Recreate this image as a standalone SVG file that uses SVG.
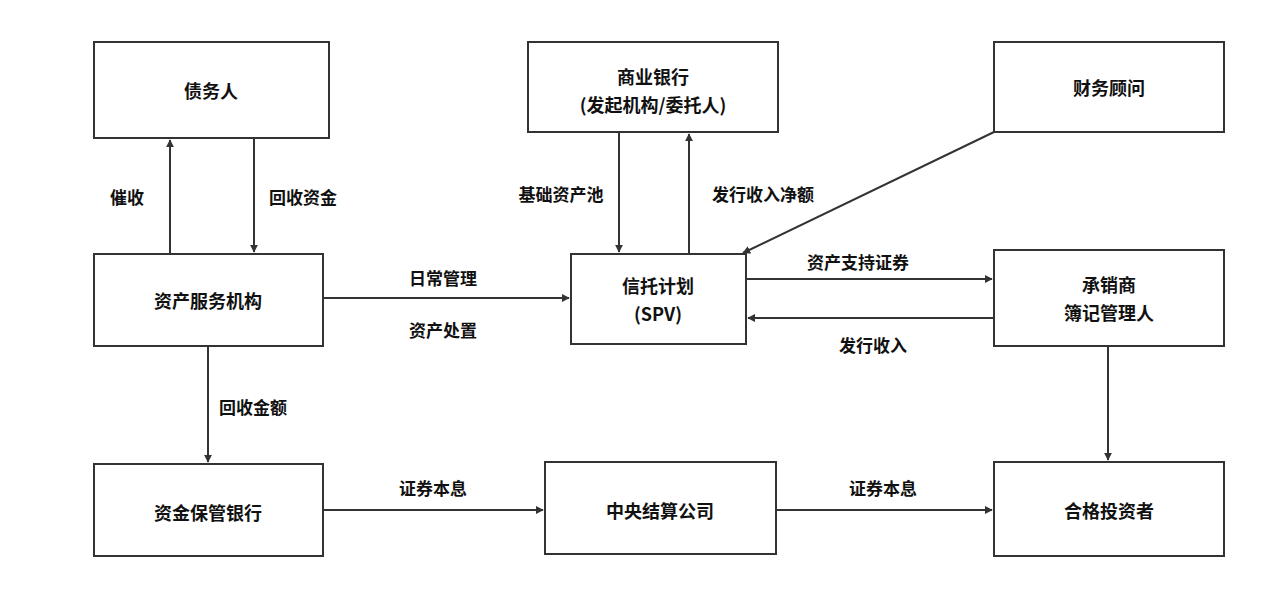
<svg xmlns="http://www.w3.org/2000/svg" width="1267" height="599" viewBox="0 0 1267 599">
<style>
.b{fill:#fff;stroke:#333;stroke-width:2}
.t{font-family:"Noto Sans CJK SC","Noto Sans",sans-serif;font-weight:bold;font-size:18px;fill:#111;text-anchor:middle;dominant-baseline:central}
.l{font-family:"Noto Sans CJK SC","Noto Sans",sans-serif;font-weight:bold;font-size:17px;fill:#111;text-anchor:middle;dominant-baseline:central}
.c{stroke:#333;stroke-width:2;fill:none;marker-end:url(#a)}
</style>
<defs><marker id="a" viewBox="0 0 10 10" refX="9" refY="5" markerWidth="8" markerHeight="8" markerUnits="userSpaceOnUse" orient="auto"><path d="M0,0L10,5L0,10z" fill="#333"/></marker></defs>
<rect width="1267" height="599" fill="#fff"/>
<g id="connectors">
<line class="c" x1="170" y1="254" x2="170" y2="140"/>
<line class="c" x1="254" y1="138" x2="254" y2="252"/>
<line class="c" x1="619" y1="132" x2="619" y2="252"/>
<line class="c" x1="689" y1="254" x2="689" y2="134"/>
<line class="c" x1="994" y1="132" x2="743" y2="253"/>
<line class="c" x1="323" y1="298" x2="569" y2="298"/>
<line class="c" x1="746" y1="279" x2="992" y2="279"/>
<line class="c" x1="994" y1="318" x2="748" y2="318"/>
<line class="c" x1="208" y1="346" x2="208" y2="462"/>
<line class="c" x1="1108" y1="346" x2="1108" y2="460"/>
<line class="c" x1="323" y1="510" x2="543" y2="510"/>
<line class="c" x1="776" y1="510" x2="992" y2="510"/>
<text class="l" x="127" y="196">催收</text>
<text class="l" x="303" y="196">回收资金</text>
<text class="l" x="561" y="193">基础资产池</text>
<text class="l" x="763" y="193">发行收入净额</text>
<text class="l" x="443" y="277">日常管理</text>
<text class="l" x="443" y="329">资产处置</text>
<text class="l" x="858" y="261">资产支持证券</text>
<text class="l" x="873" y="344">发行收入</text>
<text class="l" x="253" y="406">回收金额</text>
<text class="l" x="433" y="487">证券本息</text>
<text class="l" x="883" y="487">证券本息</text>
</g>
<g id="n1"><rect class="b" x="94" y="42" width="235" height="96"/><text class="t" x="211" y="90">债务人</text></g>
<g id="n2"><rect class="b" x="528" y="42" width="250" height="90"/><text class="t" x="653" y="76">商业银行</text><text class="t" x="653" y="104">(发起机构/委托人)</text></g>
<g id="n3"><rect class="b" x="994" y="42" width="230" height="90"/><text class="t" x="1109" y="87">财务顾问</text></g>
<g id="n4"><rect class="b" x="94" y="254" width="229" height="92"/><text class="t" x="208" y="300">资产服务机构</text></g>
<g id="n5"><rect class="b" x="571" y="254" width="175" height="90"/><text class="t" x="658" y="285">信托计划</text><text class="t" x="658" y="313">(SPV)</text></g>
<g id="n6"><rect class="b" x="994" y="250" width="230" height="96"/><text class="t" x="1109" y="284">承销商</text><text class="t" x="1109" y="312">簿记管理人</text></g>
<g id="n7"><rect class="b" x="94" y="464" width="229" height="92"/><text class="t" x="208" y="512">资金保管银行</text></g>
<g id="n8"><rect class="b" x="545" y="462" width="231" height="92"/><text class="t" x="660" y="510">中央结算公司</text></g>
<g id="n9"><rect class="b" x="994" y="462" width="230" height="94"/><text class="t" x="1109" y="510">合格投资者</text></g>
</svg>
